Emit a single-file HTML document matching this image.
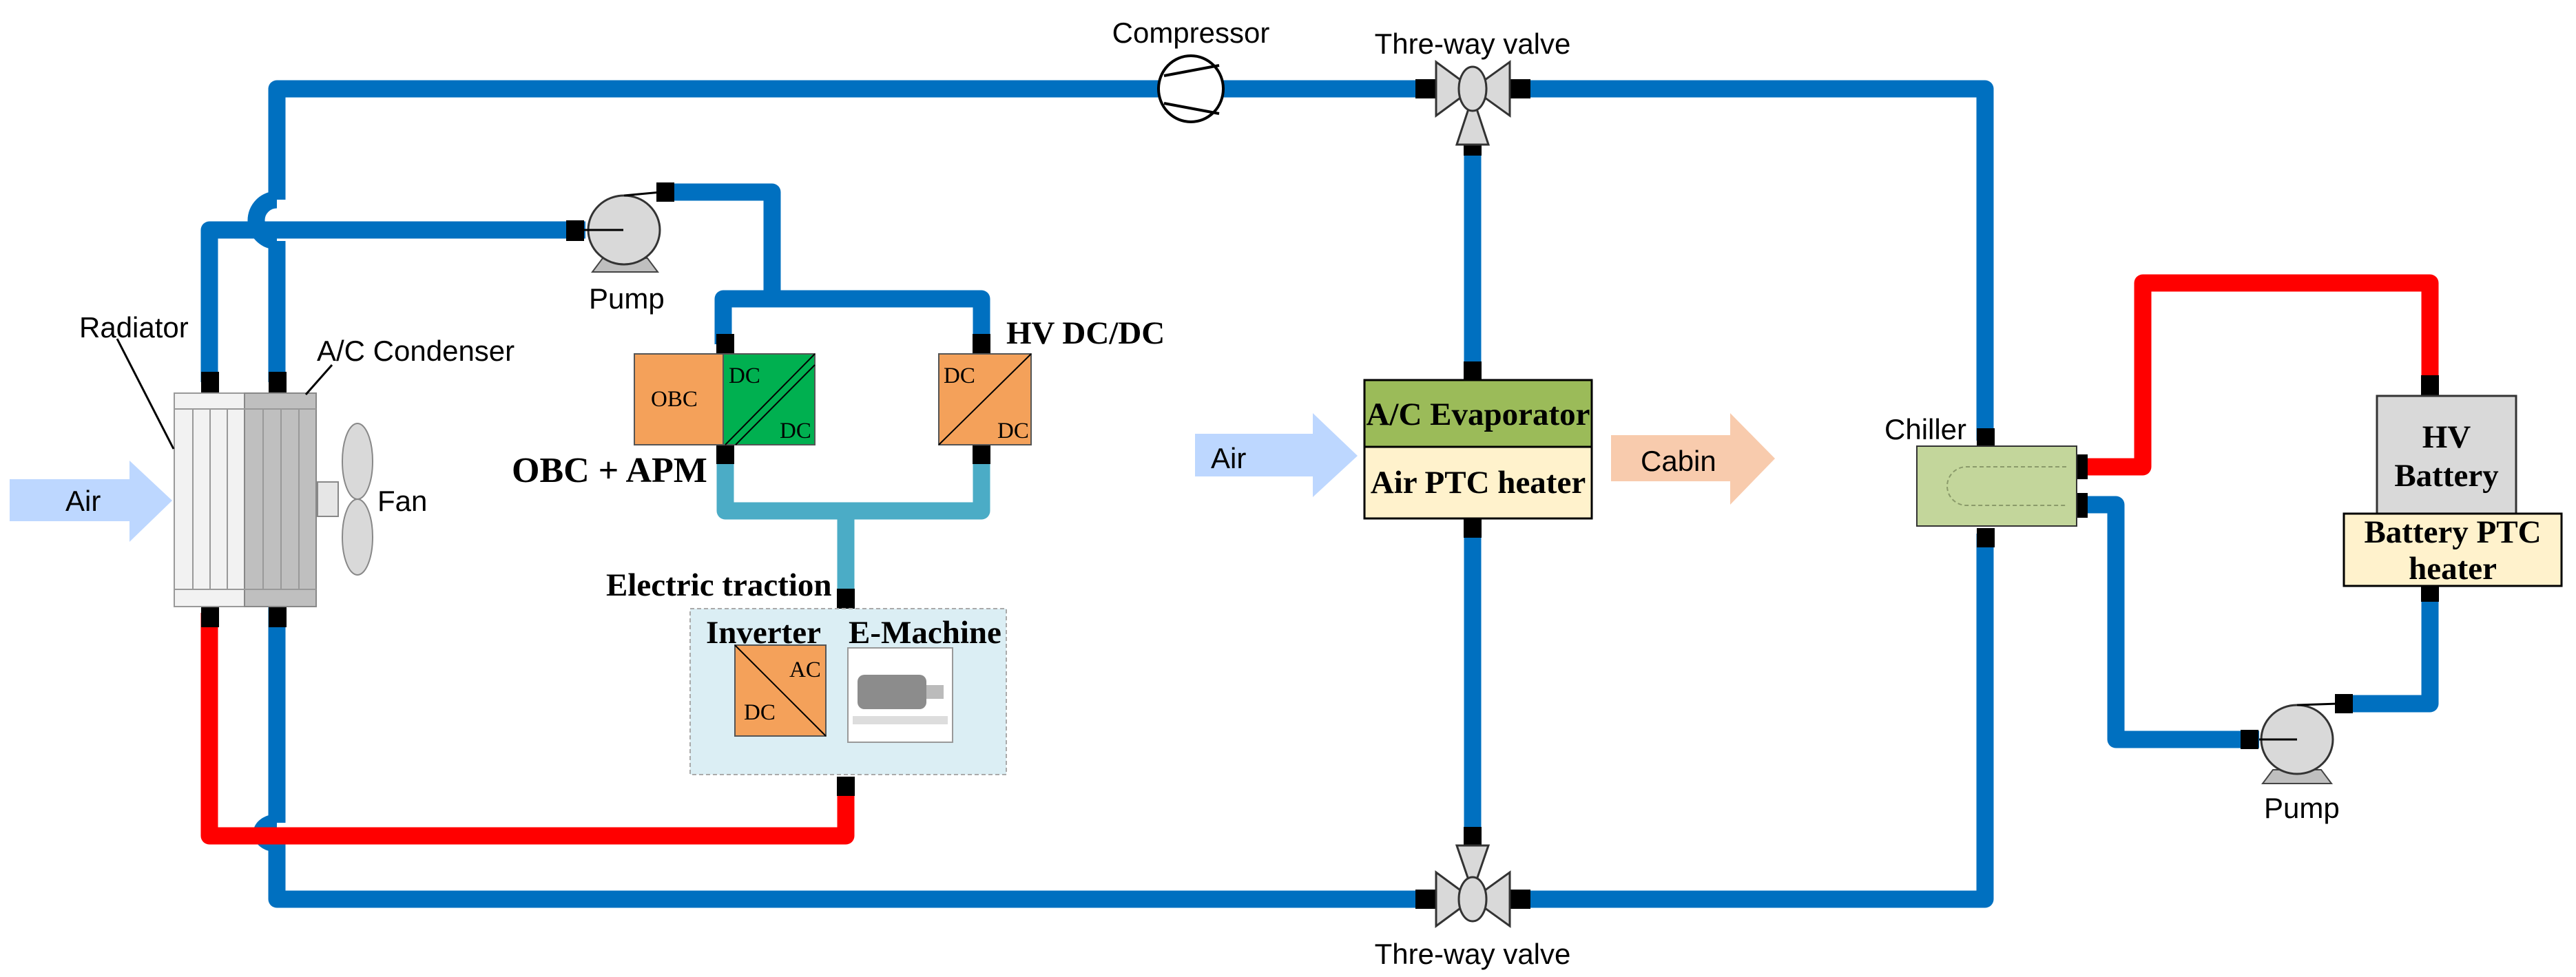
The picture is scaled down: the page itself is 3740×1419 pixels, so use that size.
<!DOCTYPE html>
<html><head><meta charset="utf-8"><style>
html,body{margin:0;padding:0;background:#fff;}
svg{display:block;}
.s{font-family:"Liberation Sans",sans-serif;font-size:42px;fill:#000;}
.b{font-family:"Liberation Serif",serif;font-weight:bold;font-size:47px;fill:#000;}
.d{font-family:"Liberation Serif",serif;font-size:33px;fill:#000;}
</style></head><body>
<svg width="3740" height="1419" viewBox="0 0 3740 1419" xmlns="http://www.w3.org/2000/svg">
<g fill="none" stroke-linejoin="round" stroke-width="25">
<path d="M2160 129 H1682 M1776 129 H402 V290 M402 350 V555" stroke="#0070c0"/>
<path d="M402 290 a22 22 0 0 0 0 60" stroke="#0070c0"/>
<path d="M2190 129 H2882 V640" stroke="#0070c0"/>
<path d="M2882 775 V1306 H2190 M2090 1306 H402 V1225 M402 1195 V880" stroke="#0070c0"/>
<path d="M402 1195 a22 15 0 0 0 0 30" stroke="#0070c0"/>
<path d="M2138 210 V545 M2138 760 V1220" stroke="#0070c0"/>
<path d="M304 555 V334 H850" stroke="#0070c0"/>
<path d="M960 279 H1121 V434 M1050 500 V434 H1425 V500" stroke="#0070c0"/>
<path d="M1053 660 V742 H1425 V660 M1228 742 V865" stroke="#4bacc6"/>
<path d="M1228 1128 V1214 H304 V890" stroke="#ff0000"/>
<path d="M3010 678 H3111 V411 H3528 V560" stroke="#ff0000"/>
<path d="M3010 733 H3072 V1074 H3280 M3395 1022 H3528 V855" stroke="#0070c0"/>
</g>
<g fill="#000">
<rect x="292" y="540" width="26" height="30"/><rect x="390" y="540" width="26" height="30"/>
<rect x="292" y="881" width="26" height="30"/><rect x="390" y="881" width="26" height="30"/>
<rect x="822" y="320" width="26" height="30"/><rect x="953" y="265" width="26" height="28"/>
<rect x="1040" y="485" width="26" height="30"/><rect x="1412" y="485" width="26" height="30"/>
<rect x="1040" y="646" width="26" height="28"/><rect x="1412" y="646" width="26" height="28"/>
<rect x="1215" y="855" width="26" height="30"/><rect x="1215" y="1128" width="26" height="28"/>
<rect x="1199" y="992" width="26" height="30"/>
<rect x="2125" y="200" width="26" height="26"/><rect x="2125" y="525" width="26" height="28"/>
<rect x="2125" y="753" width="26" height="28"/><rect x="2125" y="1201" width="26" height="26"/>
<rect x="2055" y="115" width="30" height="28"/><rect x="2192" y="115" width="30" height="28"/>
<rect x="2055" y="1292" width="30" height="28"/><rect x="2192" y="1292" width="30" height="28"/>
<rect x="2870" y="622" width="26" height="28"/><rect x="2870" y="767" width="26" height="28"/>
<rect x="3003" y="660" width="28" height="36"/><rect x="3003" y="716" width="28" height="36"/>
<rect x="3515" y="545" width="26" height="30"/><rect x="3515" y="846" width="26" height="28"/>
<rect x="3253" y="1060" width="26" height="28"/><rect x="3390" y="1008" width="26" height="28"/>
</g>
<rect x="253" y="571" width="102" height="310" fill="#f2f2f2" stroke="#999" stroke-width="2"/>
<rect x="355" y="571" width="104" height="310" fill="#bfbfbf" stroke="#888" stroke-width="2"/>
<g stroke="#999" stroke-width="2">
<line x1="253" y1="594" x2="459" y2="594"/><line x1="253" y1="856" x2="459" y2="856"/>
<line x1="280" y1="594" x2="280" y2="856"/><line x1="305" y1="594" x2="305" y2="856"/><line x1="330" y1="594" x2="330" y2="856"/>
<line x1="382" y1="594" x2="382" y2="856"/><line x1="408" y1="594" x2="408" y2="856"/><line x1="434" y1="594" x2="434" y2="856"/>
</g>
<rect x="461" y="700" width="30" height="50" fill="#e6e6e6" stroke="#888" stroke-width="2"/>
<ellipse cx="519" cy="670" rx="22" ry="55" fill="#d9d9d9" stroke="#888" stroke-width="2"/>
<ellipse cx="519" cy="780" rx="22" ry="55" fill="#d9d9d9" stroke="#888" stroke-width="2"/>
<polygon points="14,696 188,696 188,669 250,727 188,787 188,757 14,757" fill="#bdd7ff"/>
<text class="s" x="95" y="742">Air</text>
<polygon points="1735,630 1906,630 1906,600 1971,662 1906,722 1906,692 1735,692" fill="#bdd7ff"/>
<text class="s" x="1758" y="680">Air</text>
<polygon points="2339,632 2512,632 2512,600 2577,666 2512,733 2512,699 2339,699" fill="#f8cbad"/>
<text class="s" x="2382" y="684">Cabin</text>
<text class="s" x="115" y="490">Radiator</text>
<line x1="170" y1="492" x2="252" y2="652" stroke="#000" stroke-width="3"/>
<text class="s" x="460" y="524">A/C Condenser</text>
<line x1="444" y1="573" x2="482" y2="530" stroke="#000" stroke-width="3"/>
<text class="s" x="548" y="742">Fan</text>
<polygon points="860,395 955,395 940,375 875,375" fill="#bfbfbf" stroke="#444" stroke-width="2"/>
<ellipse cx="906" cy="334" rx="52" ry="50" fill="#d9d9d9" stroke="#333" stroke-width="3"/>
<line x1="845" y1="334" x2="905" y2="334" stroke="#000" stroke-width="3"/>
<line x1="906" y1="284" x2="960" y2="279" stroke="#000" stroke-width="3"/>
<text class="s" x="855" y="448">Pump</text>
<ellipse cx="1729" cy="129" rx="47" ry="48" fill="#fff" stroke="#000" stroke-width="4"/>
<line x1="1690" y1="110" x2="1770" y2="95" stroke="#000" stroke-width="4"/>
<line x1="1690" y1="150" x2="1770" y2="165" stroke="#000" stroke-width="4"/>
<text class="s" x="1729" y="62" text-anchor="middle">Compressor</text>
<g fill="#d9d9d9" stroke="#333" stroke-width="3">
<polygon points="2085,90 2085,168 2138,129"/><polygon points="2192,90 2192,168 2138,129"/>
<polygon points="2115,210 2161,210 2138,140"/>
<ellipse cx="2138" cy="129" rx="20" ry="32"/>
<polygon points="2085,1345 2085,1267 2138,1306"/><polygon points="2192,1345 2192,1267 2138,1306"/>
<polygon points="2115,1228 2161,1228 2138,1295"/>
<ellipse cx="2138" cy="1306" rx="20" ry="32"/>
</g>
<text class="s" x="2138" y="78" text-anchor="middle">Thre-way valve</text>
<text class="s" x="2138" y="1400" text-anchor="middle">Thre-way valve</text>
<rect x="921" y="514" width="129" height="132" fill="#f4a15a" stroke="#555" stroke-width="2"/>
<rect x="1050" y="514" width="133" height="132" fill="#00b050" stroke="#555" stroke-width="2"/>
<line x1="1053" y1="646" x2="1183" y2="514" stroke="#000" stroke-width="2"/>
<line x1="1068" y1="646" x2="1183" y2="530" stroke="#000" stroke-width="2"/>
<text class="d" x="945" y="590">OBC</text>
<text class="d" x="1058" y="556">DC</text><text class="d" x="1132" y="636">DC</text>
<rect x="1363" y="514" width="134" height="132" fill="#f4a15a" stroke="#555" stroke-width="2"/>
<line x1="1363" y1="646" x2="1497" y2="514" stroke="#000" stroke-width="2"/>
<text class="d" x="1370" y="556">DC</text><text class="d" x="1448" y="636">DC</text>
<text class="b" x="743" y="700" style="font-size:52px">OBC + APM</text>
<text class="b" x="1461" y="499">HV DC/DC</text>
<text class="b" x="880" y="865">Electric traction</text>
<rect x="1002" y="884" width="459" height="241" fill="#dbeef4" stroke="#aaa" stroke-width="2" stroke-dasharray="6 4"/>
<text class="b" x="1025" y="934">Inverter</text>
<text class="b" x="1232" y="934">E-Machine</text>
<rect x="1067" y="937" width="132" height="132" fill="#f4a15a" stroke="#555" stroke-width="2"/>
<line x1="1067" y1="937" x2="1199" y2="1069" stroke="#000" stroke-width="2"/>
<text class="d" x="1146" y="983">AC</text><text class="d" x="1080" y="1045">DC</text>
<rect x="1231" y="941" width="152" height="137" fill="#fff" stroke="#999" stroke-width="2"/>
<rect x="1245" y="980" width="100" height="50" rx="10" fill="#8c8c8c"/>
<rect x="1345" y="995" width="25" height="20" fill="#bbb"/>
<rect x="1238" y="1040" width="138" height="12" fill="#ddd"/>
<rect x="1981" y="552" width="330" height="97" fill="#9bbb59" stroke="#000" stroke-width="3"/>
<rect x="1981" y="649" width="330" height="104" fill="#fff2cc" stroke="#000" stroke-width="3"/>
<text class="b" x="2146" y="617" text-anchor="middle">A/C Evaporator</text>
<text class="b" x="2146" y="716" text-anchor="middle">Air PTC heater</text>
<rect x="2783" y="648" width="232" height="116" fill="#c3d69b" stroke="#333" stroke-width="2"/>
<path d="M3000 678 H2855 a28 28 0 0 0 0 56 H3000" fill="none" stroke="#8a9a6a" stroke-width="2" stroke-dasharray="6 4"/>
<text class="s" x="2736" y="638">Chiller</text>
<rect x="3451" y="575" width="202" height="171" fill="#d9d9d9" stroke="#333" stroke-width="3"/>
<text class="b" x="3552" y="650" text-anchor="middle">HV</text>
<text class="b" x="3552" y="706" text-anchor="middle">Battery</text>
<rect x="3403" y="746" width="316" height="105" fill="#fff2cc" stroke="#000" stroke-width="3"/>
<text class="b" x="3561" y="788" text-anchor="middle">Battery PTC</text>
<text class="b" x="3561" y="841" text-anchor="middle">heater</text>
<polygon points="3285,1138 3385,1138 3370,1118 3300,1118" fill="#bfbfbf" stroke="#444" stroke-width="2"/>
<ellipse cx="3335" cy="1074" rx="52" ry="50" fill="#d9d9d9" stroke="#333" stroke-width="3"/>
<line x1="3280" y1="1074" x2="3335" y2="1074" stroke="#000" stroke-width="3"/>
<line x1="3335" y1="1024" x2="3395" y2="1022" stroke="#000" stroke-width="3"/>
<text class="s" x="3287" y="1188">Pump</text>
</svg>
</body></html>
